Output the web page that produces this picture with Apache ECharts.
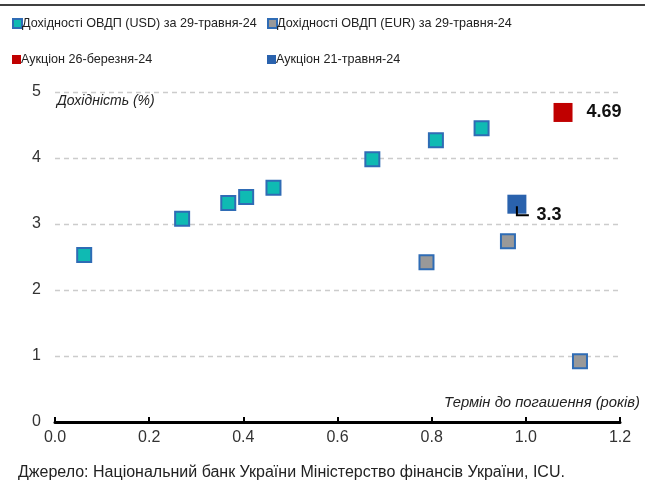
<!DOCTYPE html>
<html><head><meta charset="utf-8">
<script src="https://cdn.jsdelivr.net/npm/echarts@6/dist/echarts.min.js"></script>
<style>html,body{margin:0;padding:0;background:#fff}#c{width:653px;height:481px}</style>
</head><body><div id="c"></div>
<script>
const usdX = [0.062, 0.270, 0.368, 0.406, 0.464, 0.674, 0.809, 0.906];
const usdY = [2.53, 3.08, 3.32, 3.41, 3.55, 3.98, 4.27, 4.45];
const eurX = [0.789, 0.962, 1.115];
const eurY = [2.42, 2.74, 0.92];
const marchX = [1.079];
const marchY = [4.69];
const mayX = [0.981];
const mayY = [3.3];
const seriesNames = ['Дохідності ОВДП (USD) за 29-травня-24','Дохідності ОВДП (EUR) за 29-травня-24','Аукціон 26-березня-24','Аукціон 21-травня-24'];
const xTicks = [0, 0.2, 0.4, 0.6, 0.8, 1.0, 1.2];
const yTicks = [0, 1, 2, 3, 4, 5];
const FONT = '"Liberation Sans Narrow", "Liberation Sans", Arial, sans-serif';
const pts = (xs, ys) => xs.map((x, i) => [x, ys[i]]);
const legendPos = [[7, 12], [262, 12], [7, 48], [262, 48]];
const chart = echarts.init(document.getElementById('c'));
chart.setOption({
  animation: false,
  textStyle: {fontFamily: FONT},
  grid: {left: 55, right: 33, top: 92, bottom: 59},
  legend: seriesNames.map((n, i) => ({
    data: [n], left: legendPos[i][0], top: legendPos[i][1], itemWidth: 9, itemHeight: 9,
    textStyle: {fontFamily: FONT, fontSize: 12.6, color: '#222', padding: [0, 0, 0, -5]}
  })),
  xAxis: {type: 'value', min: 0, max: 1.2, interval: 0.2,
    axisLine: {show: true, lineStyle: {color: '#000', width: 3}},
    axisTick: {show: true, length: 5, inside: true, lineStyle: {color: '#000', width: 2}},
    axisLabel: {fontSize: 16, color: '#333', fontFamily: FONT, margin: 8, formatter: v => v.toFixed(1)},
    splitLine: {show: false},
    name: 'Термін до погашення (років)', nameLocation: 'end', nameGap: 0,
    nameTextStyle: {fontStyle: 'italic', fontSize: 14.8, color: '#222', fontFamily: FONT, align: 'right', verticalAlign: 'bottom', padding: [0, -20, 12, 0]}
  },
  yAxis: {type: 'value', min: 0, max: 5, interval: 1,
    axisLine: {show: false}, axisTick: {show: false},
    axisLabel: {fontSize: 16, color: '#333', fontFamily: FONT, margin: 14},
    splitLine: {show: true, lineStyle: {color: '#ccc', type: [5, 4], width: 1.3}},
    name: 'Дохідність (%)', nameLocation: 'end', nameGap: 0,
    nameTextStyle: {fontStyle: 'italic', fontSize: 14, color: '#222', fontFamily: FONT, align: 'left', verticalAlign: 'top', padding: [2, 0, 0, 2]}
  },
  series: [
    {name: seriesNames[0], type: 'scatter', symbol: 'rect', symbolSize: 14, data: pts(usdX, usdY),
     itemStyle: {color: '#0fbab3', borderColor: '#2f6cb5', borderWidth: 2, opacity: 1}},
    {name: seriesNames[1], type: 'scatter', symbol: 'rect', symbolSize: 14, data: pts(eurX, eurY),
     itemStyle: {color: '#999999', borderColor: '#2f6cb5', borderWidth: 2, opacity: 1}},
    {name: seriesNames[2], type: 'scatter', symbol: 'rect', symbolSize: 19, data: pts(marchX, marchY),
     itemStyle: {color: '#c00000', opacity: 1},
     label: {show: true, position: 'right', distance: 14, formatter: p => p.value[1].toFixed(2), fontSize: 18, fontWeight: 'bold', color: '#111', fontFamily: FONT}},
    {name: seriesNames[3], type: 'scatter', symbol: 'rect', symbolSize: 19, data: pts(mayX, mayY),
     itemStyle: {color: '#2a62ad', opacity: 1},
     label: {show: true, position: 'right', distance: 10, offset: [0, 11], formatter: p => String(p.value[1]), fontSize: 18, fontWeight: 'bold', color: '#111', fontFamily: FONT}}
  ]
});
const c = chart.convertToPixel({seriesIndex: 3}, [mayX[0], mayY[0]]);
chart.setOption({
  graphic: [
    {type: 'line', shape: {x1: 0, y1: 5, x2: 645, y2: 5}, style: {stroke: '#000', lineWidth: 1.5}},
    {type: 'polyline', z: 10, shape: {points: [[c[0], c[1] + 2], [c[0], c[1] + 11], [c[0] + 12, c[1] + 11]]}, style: {stroke: '#000', lineWidth: 2, fill: null}},
    {type: 'text', left: 18, top: 465, style: {text: 'Джерело: Національний банк України Міністерство фінансів України, ICU.', fontSize: 16, fill: '#222', fontFamily: FONT}}
  ]
});
</script></body></html>
